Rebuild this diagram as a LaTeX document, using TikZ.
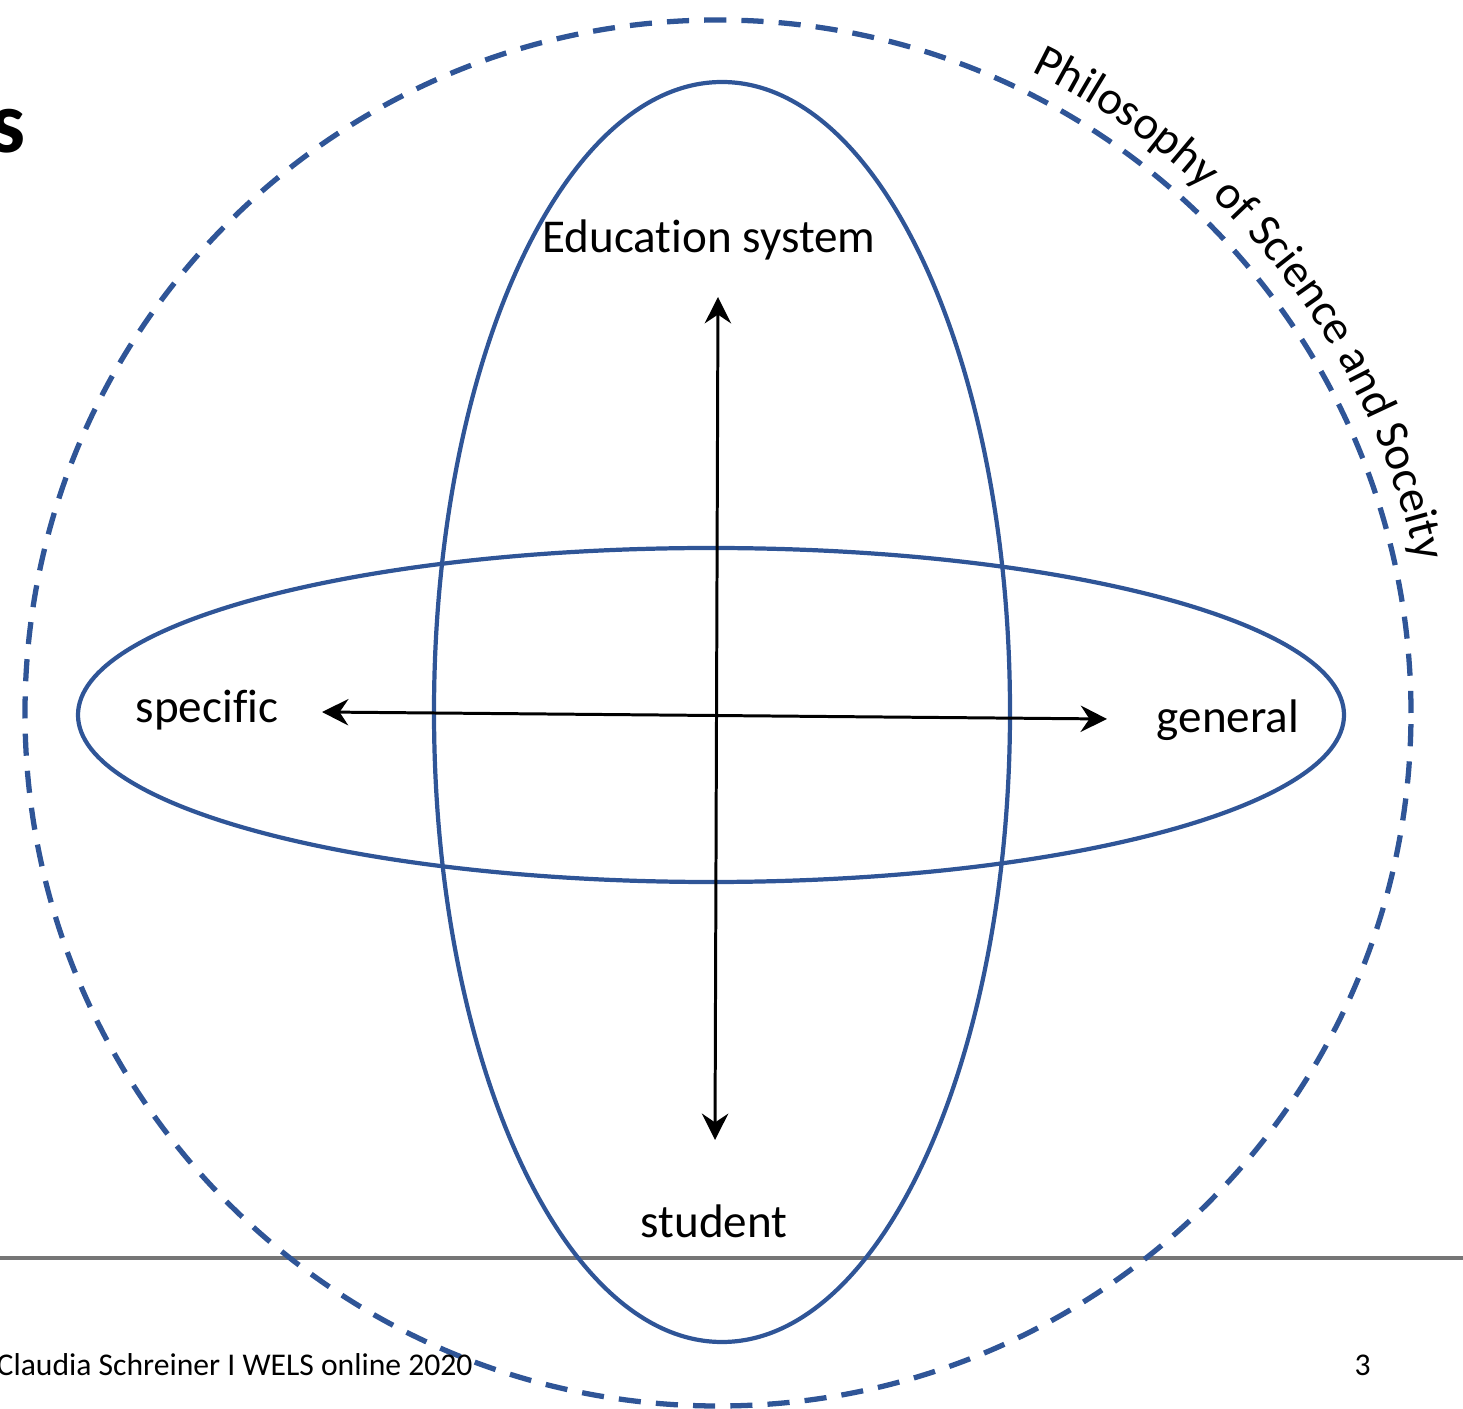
\documentclass[tikz,border=0pt]{standalone}
\usepackage{fontspec}
\setmainfont{Carlito}[Ligatures=NoCommon]
\usetikzlibrary{arrows.meta, decorations.text}
\definecolor{ringblue}{RGB}{47,85,151}
\definecolor{rulegray}{RGB}{118,118,118}

\begin{document}
\begin{tikzpicture}[>={Stealth[length=7.5pt, width=7.5pt, inset=2.5pt]},
    ring/.style={ringblue, line width=1.2pt},
    axislabel/.style={font=\fontsize{13.4}{16}\selectfont, inner sep=0pt, anchor=base},
    footer/.style={font=\fontsize{9}{11}\selectfont, inner sep=0pt}]
    \useasboundingbox (0,0) rectangle (14.63,14.08);

    % Title remnant and footer rule
    \node[font=\fontsize{25}{30}\selectfont\bfseries, inner sep=0pt, anchor=base east] (title) at (0.26,12.55) {s};
    \draw[rulegray, line width=0.9pt] (0,1.50) -- (14.63,1.50);

    % Outer dashed circle
    \draw[ringblue, line width=1.5pt, dash pattern=on 6.3pt off 4.3pt] (7.18,6.95) circle (6.93);
    \path[decorate, decoration={text along path, text align=left,
        text={|\fontsize{13.4}{16}\selectfont|Philosophy of Science and Soceity}}]
        (7.18,6.95) ++(64:7.14) arc[start angle=64, end angle=5, radius=7.14];

    % Two ellipses
    \draw[ring] (7.22,6.96) ellipse [x radius=2.88, y radius=6.30];
    \draw[ring] (7.11,6.93) ellipse [x radius=6.33, y radius=1.67];

    % Axes
    \coordinate (up) at (7.18,11.11);
    \coordinate (down) at (7.15,2.68);
    \coordinate (left) at (3.22,6.96);
    \coordinate (right) at (11.07,6.89);
    \draw[<->, line width=0.85pt] (up) -- (down);
    \draw[<->, line width=0.85pt] (left) -- (right);

    % Labels
    \node[axislabel] (edu) at (7.09,11.55) {Education system};
    \node[axislabel] (specific) at (2.07,6.85) {specific};
    \node[axislabel] (general) at (12.28,6.75) {general};
    \node[axislabel] (student) at (7.14,1.71) {student};

    % Footer
    \node[footer, anchor=base west] (author) at (-0.04,0.33) {Claudia Schreiner I WELS online 2020};
    \node[footer, anchor=base west] (page) at (13.54,0.33) {3};
\end{tikzpicture}
\end{document}
